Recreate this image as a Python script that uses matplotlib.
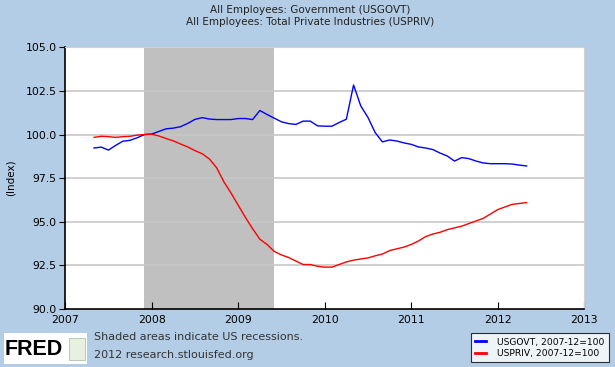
import matplotlib.pyplot as plt
from matplotlib.patches import Rectangle
from matplotlib.ticker import FormatStrFormatter

# monthly index values, May 2007 .. May 2012 (2007-12 = 100)
start_year = 2007
start_month = 4  # months after Jan 2007
usgovt = [99.23, 99.28, 99.11, 99.38, 99.62, 99.67, 99.82, 100.0, 100.03, 100.18,
          100.33, 100.37, 100.45, 100.64, 100.87, 100.97, 100.89, 100.86, 100.86, 100.86,
          100.92, 100.92, 100.86, 101.38, 101.15, 100.94, 100.73, 100.63, 100.58, 100.77,
          100.77, 100.50, 100.48, 100.48, 100.69, 100.88, 102.84, 101.64, 100.98, 100.11,
          99.58, 99.69, 99.63, 99.52, 99.44, 99.29, 99.23, 99.14, 98.94, 98.77,
          98.48, 98.68, 98.62, 98.48, 98.37, 98.33, 98.33, 98.33, 98.31, 98.25,
          98.20]
uspriv = [99.84, 99.90, 99.88, 99.84, 99.88, 99.90, 99.97, 100.0, 100.02, 99.92,
          99.77, 99.64, 99.46, 99.29, 99.08, 98.90, 98.60, 98.10, 97.30, 96.65,
          95.95, 95.25, 94.60, 94.00, 93.70, 93.30, 93.10, 92.95, 92.75, 92.55,
          92.55, 92.45, 92.40, 92.40, 92.55, 92.70, 92.80, 92.87, 92.93, 93.05,
          93.15, 93.35, 93.45, 93.55, 93.70, 93.90, 94.15, 94.30, 94.40, 94.55,
          94.65, 94.75, 94.90, 95.05, 95.20, 95.45, 95.70, 95.85, 96.00, 96.05,
          96.10]
dates = [start_year + (start_month + i) / 12 for i in range(len(usgovt))]
recession = (2007 + 11 / 12, 2009 + 5 / 12)
years = list(range(2007, 2014))
yticks = [90.0, 92.5, 95.0, 97.5, 100.0, 102.5, 105.0]

bg = '#b4cde6'
fig = plt.figure(figsize=(6.15, 3.67), dpi=100, facecolor=bg)
ax = fig.add_axes([0.106, 0.158, 0.844, 0.713])
ax.set_facecolor('white')

ax.axvspan(recession[0], recession[1], color='#c0c0c0', zorder=0.5, lw=0)
for y in yticks[1:-1]:
    ax.axhline(y, color='#c8c8c8', lw=1.2, zorder=0.6)

ax.plot(dates, usgovt, color='#0000ff', lw=1, label='USGOVT, 2007-12=100')
ax.plot(dates, uspriv, color='#ff0000', lw=1, label='USPRIV, 2007-12=100')

ax.set_xlim(2007, 2013)
ax.set_ylim(90, 105)
ax.set_xticks(years)
ax.set_yticks(yticks)
ax.yaxis.set_major_formatter(FormatStrFormatter('%.1f'))
ax.tick_params(axis='x', direction='in', length=5, labelsize=7.8, pad=4)
ax.tick_params(axis='y', direction='out', length=4, labelsize=7.8, pad=2)
for s in ['top', 'right']:
    ax.spines[s].set_color('#d0d0d0')
for s in ['left', 'bottom']:
    ax.spines[s].set_linewidth(1.2)
ax.set_ylabel('(Index)', fontsize=7.5, labelpad=7)

fig.text(0.505, 0.972, 'All Employees: Government (USGOVT)', ha='center', va='center', fontsize=7.5, color='#222222')
fig.text(0.505, 0.94, 'All Employees: Total Private Industries (USPRIV)', ha='center', va='center', fontsize=7.5, color='#222222')

# legend box
leg = fig.legend(loc='lower right', bbox_to_anchor=(0.997, 0.0), fontsize=6.6, frameon=True,
                 fancybox=False, edgecolor='black', handlelength=1.2, handletextpad=1.2,
                 borderpad=0.45, labelspacing=0.3)
leg.get_frame().set_linewidth(0.8)
for line in leg.get_lines():
    line.set_linewidth(2)

# FRED logo and notes
fig.patches.append(Rectangle((0.006, 0.008), 0.135, 0.085, transform=fig.transFigure,
                             facecolor='white', edgecolor='none'))
fig.text(0.008, 0.048, 'FRED', fontsize=15.5, fontweight='bold', ha='left', va='center',
         color='black', family='Liberation Sans')
fig.patches.append(Rectangle((0.113, 0.02), 0.026, 0.06, transform=fig.transFigure,
                             facecolor='#e8f0e0', edgecolor='#a0b8a0', lw=0.5))
fig.text(0.153, 0.081, 'Shaded areas indicate US recessions.', fontsize=8, ha='left', va='center', color='#333333')
fig.text(0.282, 0.034, '2012 research.stlouisfed.org', fontsize=8, ha='center', va='center', color='#333333')

plt.savefig('out.png', dpi=100, facecolor=bg)
plt.close()
